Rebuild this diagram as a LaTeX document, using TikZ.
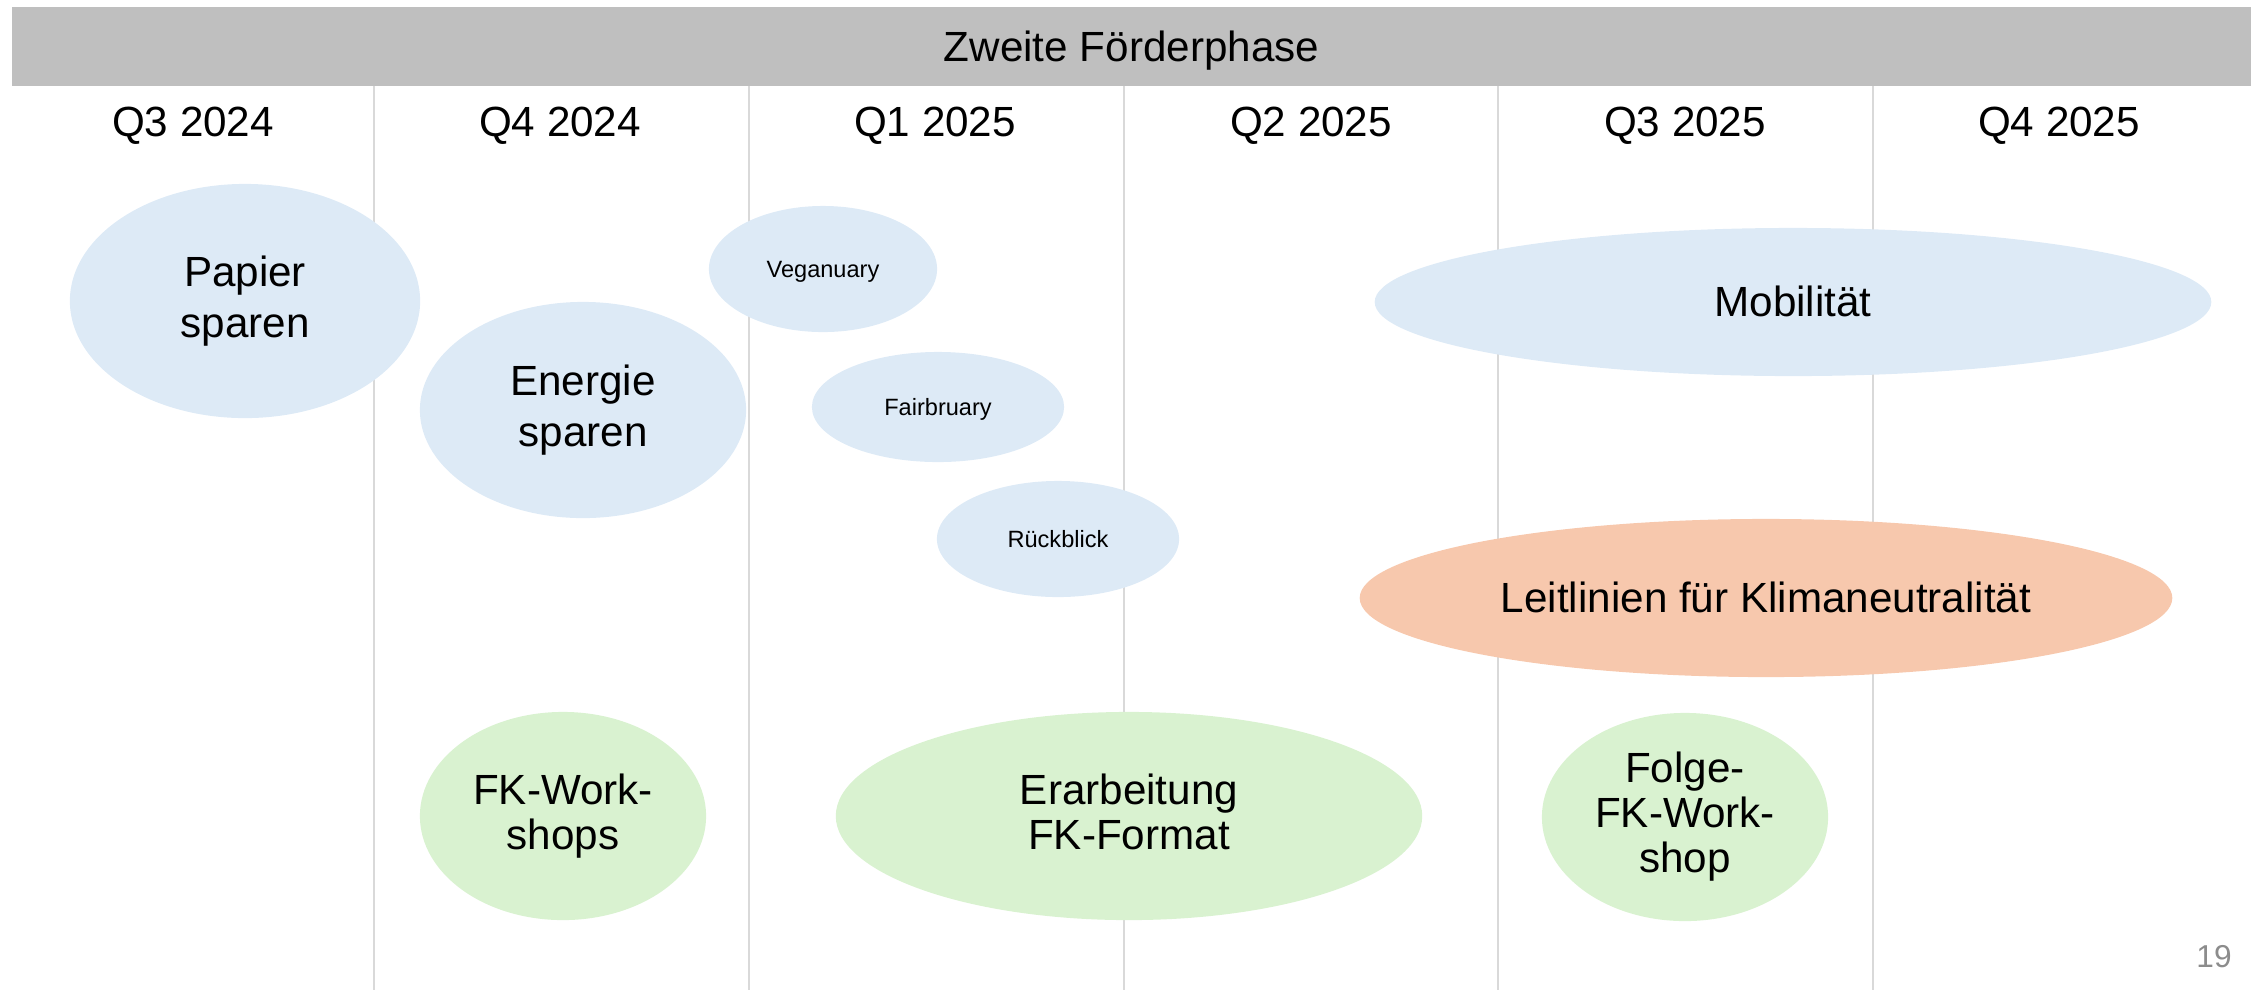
\documentclass[tikz,border=0pt]{standalone}
\usepackage{fontspec}
\setmainfont{Liberation Sans}
\usetikzlibrary{shapes.geometric}
\definecolor{hdrCol}{HTML}{BFBFBF}
\definecolor{lineCol}{HTML}{D9D9D9}
\definecolor{topicCol}{HTML}{DDEAF6}
\definecolor{guideCol}{HTML}{F7C8AD}
\definecolor{fkCol}{HTML}{D9F2D0}
\definecolor{pageCol}{HTML}{8C8C8C}
\newcommand{\lnstrut}{\rule[-0.212em]{0pt}{1.117em}} % line box of the slide font
\tikzset{
  lbox/.style={execute at begin node=\lnstrut, execute at end node=\lnstrut},
  hdr/.style={fill=hdrCol, minimum width=22.37cm, minimum height=0.79cm, inner sep=0pt,
              font=\fontsize{12}{14}\selectfont, lbox},
  qlbl/.style={font=\fontsize{12}{14}\selectfont, inner sep=0pt, lbox},
  qline/.style={lineCol, line width=0.6pt},
  blob/.style 2 args={ellipse, inner sep=0pt, align=center, lbox,
                      minimum width=#1*0.02cm, minimum height=#2*0.02cm}, % half axes in px
  topic/.style={fill=topicCol, font=\fontsize{12}{14.5}\selectfont},
  month/.style={fill=topicCol, font=\fontsize{6.7}{8}\selectfont},
  guide/.style={fill=guideCol, font=\fontsize{12}{14}\selectfont},
  fk/.style={fill=fkCol, font=\fontsize{12}{12.8}\selectfont},
}

\begin{document}
\begin{tikzpicture}[x=0.01cm, y=-0.01cm]
  \useasboundingbox (0,0) rectangle (2254,990);

  % quarter columns
  \foreach \x in {374,749,1124,1498,1873}{\draw[qline] (\x,86) -- (\x,990);}
  \node[hdr] (phase) at (1131.5,46.5) {Zweite Förderphase};
  \foreach \q/\x/\n in {Q3 2024/193/q0, Q4 2024/560/q1, Q1 2025/935/q2,
                        Q2 2025/1311/q3, Q3 2025/1685/q4, Q4 2025/2059/q5}
    {\node[qlbl] (\n) at (\x,122) {\q};}

  % topics
  \node[blob={175}{117}, topic] (papier)  at (245,301)  {Papier\\sparen};
  \node[blob={163}{108}, topic] (energie) at (583,410)  {Energie\\sparen};
  \node[blob={114}{63},  month] (vegan)   at (823,269)  {Veganuary};
  \node[blob={126}{55},  month] (fair)    at (938,407)  {Fairbruary};
  \node[blob={121}{58},  month] (rueck)   at (1058,539) {Rückblick};
  \node[blob={418}{74},  topic] (mobil)   at (1793,302) {Mobilität};
  \node[blob={406}{79},  guide] (leit)    at (1766,598) {Leitlinien für Klimaneutralität};

  % FK formats
  \node[blob={143}{104}, fk] (fkws)  at (563,816)  {FK-Work-\\shops};
  \node[blob={293}{104}, fk] (erarb) at (1129,816) {Erarbeitung\\FK-Format};
  \node[blob={143}{104}, fk] (folge) at (1685,817) {Folge-\\FK-Work-\\shop};

  \node[text=pageCol, font=\fontsize{9}{10}\selectfont, inner sep=0pt] (page) at (2214,957) {19};
\end{tikzpicture}
\end{document}
